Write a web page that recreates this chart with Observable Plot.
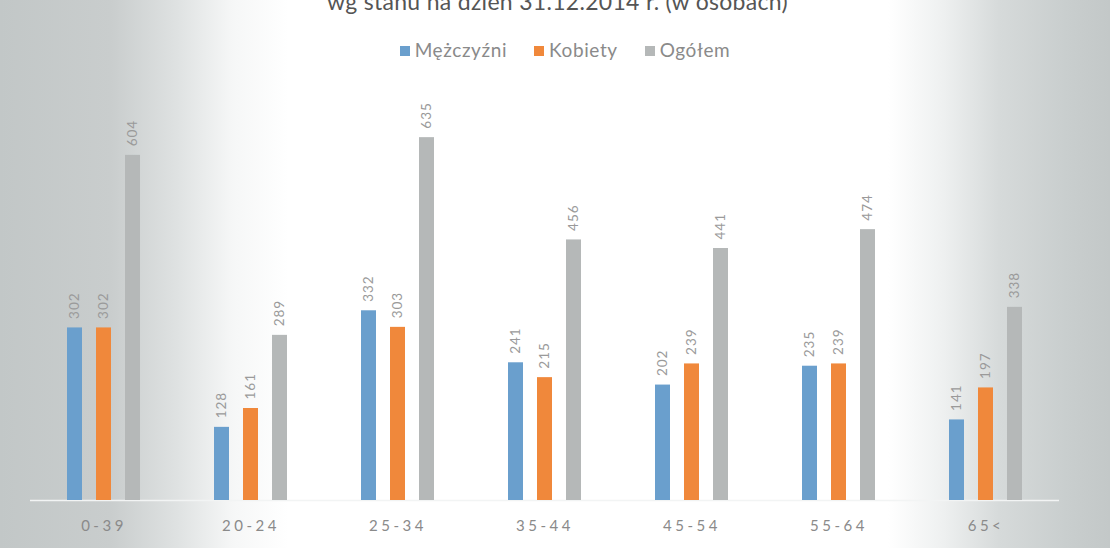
<!DOCTYPE html>
<html>
<head>
<meta charset="utf-8">
<script src="https://cdn.jsdelivr.net/npm/d3@7"></script>
<script src="https://cdn.jsdelivr.net/npm/@observablehq/plot@0.6"></script>
<style>
  html, body { margin: 0; padding: 0; }
  body {
    width: 1110px; height: 548px; overflow: hidden;
    font-family: Lato, "Open Sans", sans-serif;
    background: linear-gradient(to right, #c2c7c7 0%, #c9cdcd 10%, #dfe2e2 16%, #f6f7f7 21%, #ffffff 26%, #ffffff 80%, #eef0f0 85%, #d6dada 90%, #c9cece 96%, #c3c8c8 100%);
  }
  #title {
    position: relative; top: -4px;
    text-align: center; font-size: 23px; color: #555; height: 10px; line-height: 10px;
    overflow: visible; white-space: nowrap; letter-spacing: 0.3px; padding-left: 5px;
  }
  #legend {
    display: flex; justify-content: center; align-items: center; gap: 27px; margin-top: 28px; height: 22px;
    font-size: 19px; color: #8a8a8a; letter-spacing: 0.6px; padding-left: 20px;
  }
  #legend span.sw { display: inline-block; width: 10px; height: 10px; margin-right: 5px; vertical-align: 1px; }
  svg [aria-label="fx-axis tick label"] text { letter-spacing: 3.5px; }
  svg [aria-label="text"] text { letter-spacing: 1px; }
</style>
</head>
<body>
<div id="title">wg stanu na dzień 31.12.2014 r. (w osobach)</div>
<div id="legend"></div>
<div id="chart"></div>
<script>
const groups = ["0-39", "20-24", "25-34", "35-44", "45-54", "55-64", "65<"];
const series = ["Mężczyźni", "Kobiety", "Ogółem"];
const men   = [302, 128, 332, 241, 202, 235, 141];
const women = [302, 161, 303, 215, 239, 239, 197];
const total = [604, 289, 635, 456, 441, 474, 338];
const colors = ["#6a9fcd", "#f0883b", "#b5b8b8"];

const values = [men, women, total];
const data = [];
groups.forEach((g, i) => series.forEach((s, j) => data.push({group: g, series: s, value: values[j][i]})));

const legend = document.getElementById("legend");
series.forEach((s, j) => {
  const item = document.createElement("div");
  item.innerHTML = `<span class="sw" style="background:${colors[j]}"></span>${s}`;
  legend.appendChild(item);
});

const chart = Plot.plot({
  width: 1110,
  height: 488,
  marginTop: 40,
  marginBottom: 48,
  marginLeft: 30,
  marginRight: 51,
  style: {background: "transparent", fontFamily: "Lato, 'Open Sans', sans-serif"},
  fx: {domain: groups, padding: 0, label: null},
  x: {domain: series, paddingInner: 0.5, paddingOuter: 1.2, axis: null},
  y: {domain: [0, 700], axis: null},
  color: {domain: series, range: colors},
  marks: [
    Plot.ruleY([0], {stroke: "#f2f4f4", strokeWidth: 1.5}),
    Plot.barY(data, {fx: "group", x: "series", y: "value", fill: "series"}),
    Plot.text(data, {fx: "group", x: "series", y: "value", text: d => String(d.value),
      rotate: -90, textAnchor: "start", lineAnchor: "middle", dy: -9, fill: "#9a9a9a", fontSize: 13.5}),
    Plot.axisFx({anchor: "bottom", tickSize: 0, tickPadding: 20, fontSize: 15, fill: "#8a8a8a", label: null})
  ]
});
document.getElementById("chart").appendChild(chart);
</script>
</body>
</html>
